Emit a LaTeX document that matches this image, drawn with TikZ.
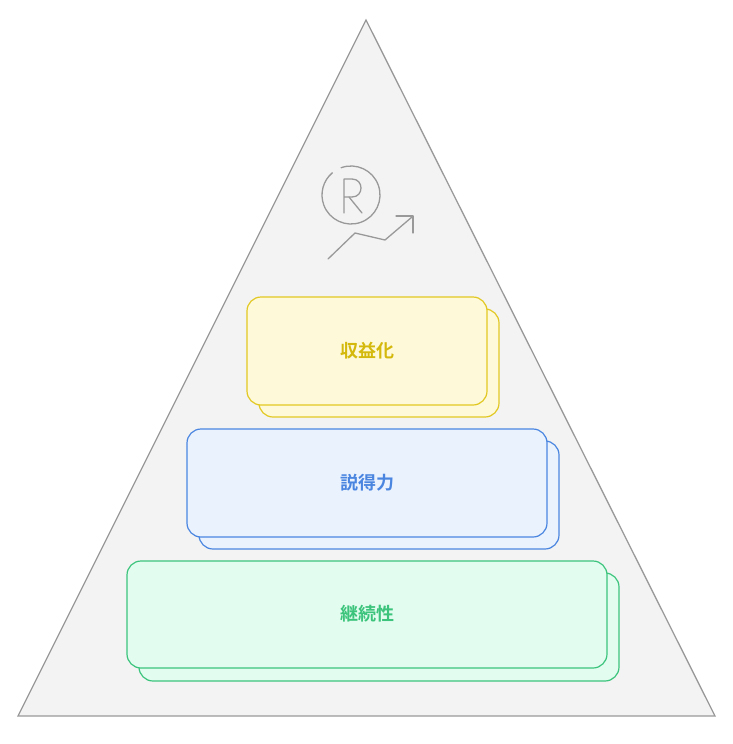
\documentclass[tikz,border=0pt]{standalone}
\usepackage{fontspec}
\newfontfamily\cjk{Noto Sans CJK JP}[BoldFont={Noto Sans CJK JP Bold}]
\definecolor{ylwfill}{HTML}{FEF9D9}
\definecolor{ylwline}{HTML}{E2C823}
\definecolor{ylwtext}{HTML}{D4B90C}
\definecolor{blufill}{HTML}{EAF2FE}
\definecolor{bluline}{HTML}{4A86E0}
\definecolor{grnfill}{HTML}{E2FCEF}
\definecolor{grnline}{HTML}{3CC47C}
\definecolor{pyrfill}{HTML}{F3F3F3}
\definecolor{pyrline}{HTML}{999999}
\tikzset{
  tier/.style={draw,rounded corners=14pt,line width=1.2pt,inner sep=0pt},
  tierlabel/.style={font=\cjk\bfseries\fontsize{18}{21}\selectfont},
  icon/.style={draw=pyrline,line width=1.3pt,line cap=round,line join=round}
}
\begin{document}
\begin{tikzpicture}[x=1pt,y=-1pt]
			\useasboundingbox (0,0) rectangle (733,744);
			% pyramid
			\coordinate (top) at (366,20);
			\coordinate (bl) at (18,716);
			\coordinate (br) at (715,716);
			\draw[pyrline,fill=pyrfill,line width=1.3pt](top)--(bl)--(br)--cycle;
			% icon
			\draw[icon](351,195) ++(70:-29) arc[start angle=250,end angle=590,radius=29];
			\draw[icon](344,213)--(344,179)--(352,179) .. controls (364,179) and (364,197) .. (352,197)--(344,197);
			\draw[icon](349,197)--(362,213);
			\draw[icon](328,259)--(355,233)--(385,240)--(412,217);
			\draw[icon](396,216)--(413,216)--(413,233);
			% tiers
			\draw[tier,draw=ylwline,fill=ylwfill](259,309) rectangle (499,417);
			\draw[tier,draw=ylwline,fill=ylwfill](247,297) rectangle (487,405);
			\node[tierlabel,text=ylwtext](rev) at (367,351){収益化};
			\draw[tier,draw=bluline,fill=blufill](199,441) rectangle (559,549);
			\draw[tier,draw=bluline,fill=blufill](187,429) rectangle (547,537);
			\node[tierlabel,text=bluline](pers) at (367,483){説得力};
			\draw[tier,draw=grnline,fill=grnfill](139,573) rectangle (619,681);
			\draw[tier,draw=grnline,fill=grnfill](127,561) rectangle (607,668);
			\node[tierlabel,text=grnline](cont) at (367,614){継続性};
		\end{tikzpicture}
\end{document}
